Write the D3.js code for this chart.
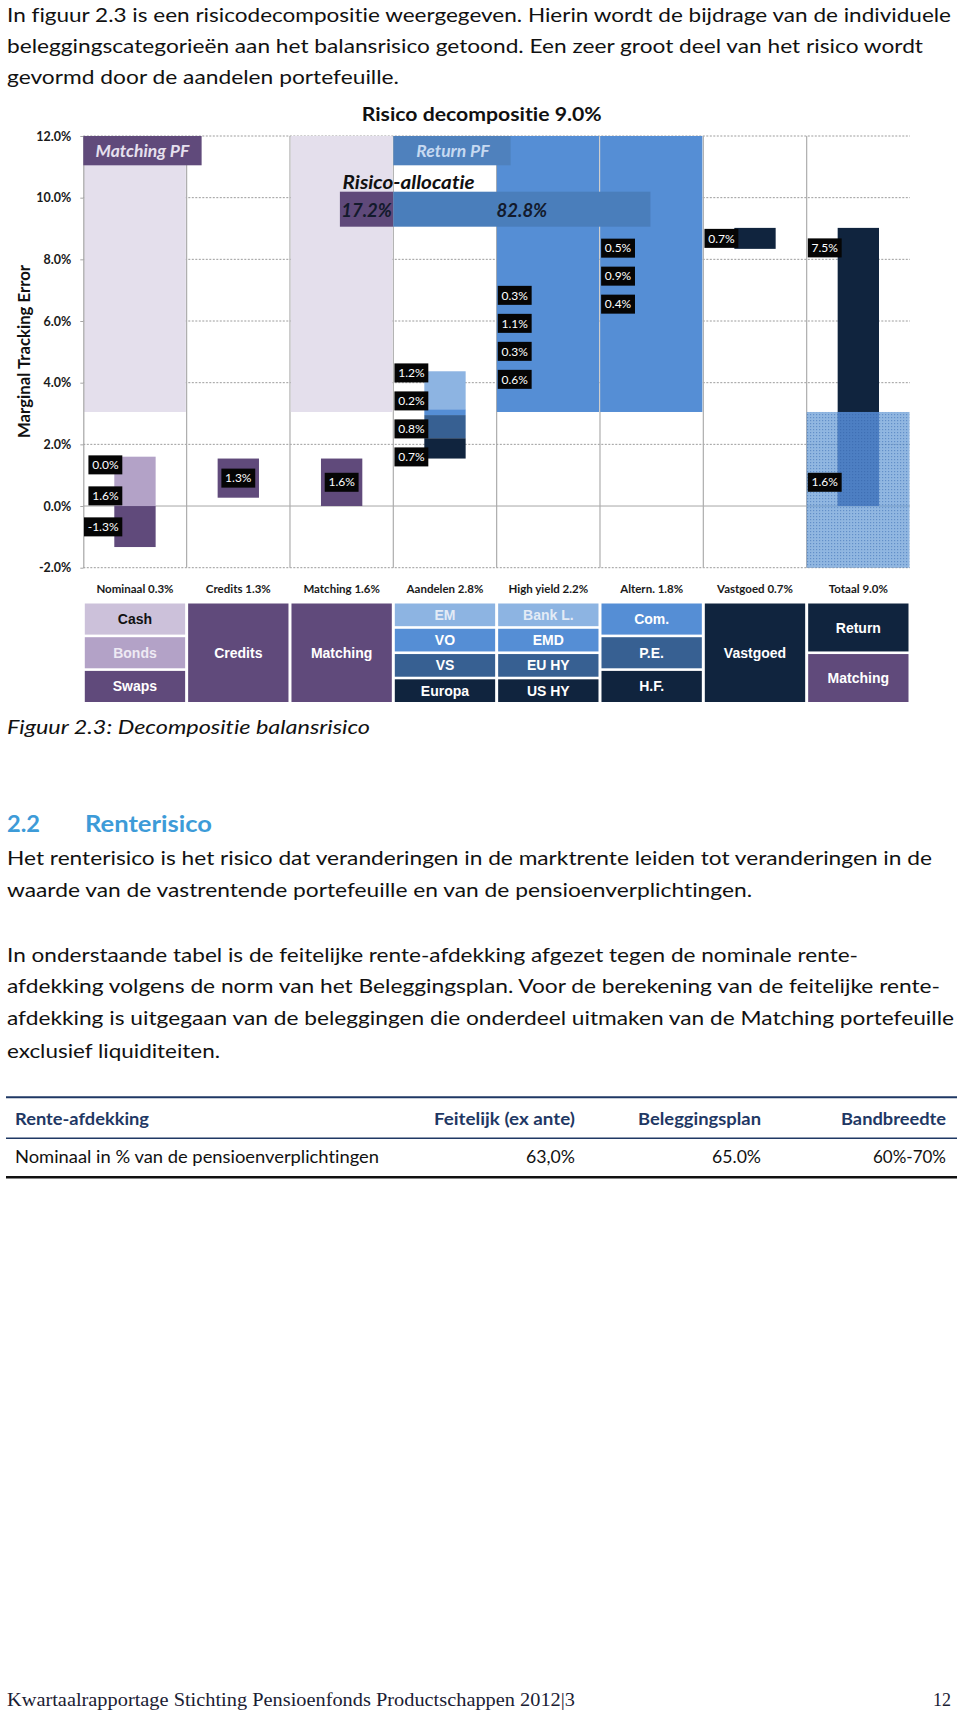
<!DOCTYPE html>
<html><head><meta charset="utf-8">
<script src="https://cdn.jsdelivr.net/npm/d3@7"></script>
<style>
html,body{margin:0;padding:0;background:#fff;}
svg{display:block;}
text{font-variant-ligatures:none;font-feature-settings:"liga" 0,"dlig" 0,"clig" 0;}
</style></head><body>
<svg id="page" width="960" height="1716"></svg>
<script>
// ---------------- DATA ----------------
const categories = ["Nominaal","Credits","Matching","Aandelen","High yield","Altern.","Vastgoed","Totaal"];
const categoryTotals = ["0.3%","1.3%","1.6%","2.8%","2.2%","1.8%","0.7%","9.0%"];
const yTicks = [-2,0,2,4,6,8,10,12];

// segments, bottom-to-top: [part, value (%), data label]
const nominaalParts = [["Swaps",-1.33,"-1.3%"],["Bonds",1.60,"1.6%"],["Cash",0.00,"0.0%"]];
const creditsParts  = [["Credits",1.27,"1.3%"]];
const matchingParts = [["Matching",1.54,"1.6%"]];
const aandelenParts = [["Europa",0.66,"0.7%"],["VS",0.75,"0.8%"],["VO",0.19,"0.2%"],["EM",1.23,"1.2%"]];
const highYieldParts = [["US HY",0.55,"0.6%"],["EU HY",0.30,"0.3%"],["EMD",1.05,"1.1%"],["Bank L.",0.30,"0.3%"]];
const alternParts   = [["H.F.",0.40,"0.4%"],["P.E.",0.87,"0.9%"],["Com.",0.50,"0.5%"]];
const vastgoedParts = [["Vastgoed",0.68,"0.7%"]];
const totaalParts   = [["Matching",1.54,"1.6%"],["Return",7.48,"7.5%"]];

// risk allocation
const allocationNames = ["Matching","Return"];
const allocationValues = [17.2, 82.8];

// portfolio panels (value range in %)
const matchingPanelCats = ["Nominaal","Matching"];
const returnPanelCats = ["High yield","Altern."];
const panelRange = [3.05, 12];
const totalPanelRange = [-2, 3.05];

// ---------------- STYLE ----------------
const FONT = "Lato, 'Open Sans', sans-serif";
const partColors = {
  "Cash":"#ccc1da","Bonds":"#b3a2c7","Swaps":"#604a7b","Credits":"#604a7b","Matching":"#604a7b",
  "EM":"#8db4e2","VO":"#558ed5","VS":"#376092","Europa":"#10243e",
  "Bank L.":"#8db4e2","EMD":"#558ed5","EU HY":"#376092","US HY":"#10243e",
  "Com.":"#558ed5","P.E.":"#376092","H.F.":"#10243e","Vastgoed":"#10243e","Return":"#10243e"
};
const legendTextColors = {"Cash":"#111111","Bonds":"#eeeaf4","EM":"#e3ebf6","Bank L.":"#e3ebf6"};

const partsByCat = {
  "Nominaal":nominaalParts,"Credits":creditsParts,"Matching":matchingParts,"Aandelen":aandelenParts,
  "High yield":highYieldParts,"Altern.":alternParts,"Vastgoed":vastgoedParts,"Totaal":totaalParts
};
const totalCats = new Set(["Matching","Totaal"]);
const centeredLabelCats = new Set(["Credits","Matching"]);

const svg = d3.select("#page");
svg.append("rect").attr("width",960).attr("height",1716).attr("fill","#fff");

const defs = svg.append("defs");
const pat = defs.append("pattern").attr("id","dots").attr("width",3).attr("height",3)
  .attr("patternUnits","userSpaceOnUse");
pat.append("rect").attr("width",3).attr("height",3).attr("fill","rgba(103,155,213,0.72)");
pat.append("rect").attr("width",1.2).attr("height",1.2).attr("fill","rgba(60,110,180,0.55)");
const pat2 = defs.append("pattern").attr("id","dotsDark").attr("width",3).attr("height",3)
  .attr("patternUnits","userSpaceOnUse");
pat2.append("rect").attr("width",3).attr("height",3).attr("fill","#4d7fc3");
pat2.append("rect").attr("width",1.2).attr("height",1.2).attr("fill","#3f6fb4");

// ---------------- BODY TEXT ----------------
function line(txt, xx, yy, opts = {}) {
  const t = svg.append("text").attr("x", xx).attr("y", yy).text(txt)
    .attr("font-family", opts.family || FONT)
    .attr("font-size", opts.size || 20)
    .attr("fill", opts.fill || "#111")
    .attr("font-weight", opts.weight || "normal")
    .attr("font-style", opts.style || "normal");
  if (opts.anchor) t.attr("text-anchor", opts.anchor);
  if (opts.len) t.attr("textLength", opts.len).attr("lengthAdjust","spacingAndGlyphs");
  return t;
}
line("In figuur 2.3 is een risicodecompositie weergegeven. Hierin wordt de bijdrage van de individuele", 7, 21.7, {len:944});
line("beleggingscategorieën aan het balansrisico getoond. Een zeer groot deel van het risico wordt", 7, 53.3, {len:916});
line("gevormd door de aandelen portefeuille.", 7, 84, {len:392});

line("Figuur 2.3: Decompositie balansrisico", 7, 734.3, {style:"italic", len:363});

line("2.2", 7, 831.7, {weight:"bold", size:23.5, fill:"#3d9bd8", len:33});
line("Renterisico", 85, 831.7, {weight:"bold", size:23.5, fill:"#3d9bd8", len:127});

line("Het renterisico is het risico dat veranderingen in de marktrente leiden tot veranderingen in de", 7, 865, {len:925});
line("waarde van de vastrentende portefeuille en van de pensioenverplichtingen.", 7, 897.3, {len:745});
line("In onderstaande tabel is de feitelijke rente-afdekking afgezet tegen de nominale rente-", 7, 961.7, {len:851});
line("afdekking volgens de norm van het Beleggingsplan. Voor de berekening van de feitelijke rente-", 7, 993.3, {len:933});
line("afdekking is uitgegaan van de beleggingen die onderdeel uitmaken van de Matching portefeuille", 7, 1025, {len:947});
line("exclusief liquiditeiten.", 7, 1058.3, {len:213});

// table
svg.append("line").attr("x1",6).attr("x2",957).attr("y1",1097.3).attr("y2",1097.3).attr("stroke","#1f3864").attr("stroke-width",2);
svg.append("line").attr("x1",6).attr("x2",957).attr("y1",1138.3).attr("y2",1138.3).attr("stroke","#1f3864").attr("stroke-width",1.5);
svg.append("line").attr("x1",6).attr("x2",957).attr("y1",1177.3).attr("y2",1177.3).attr("stroke","#111").attr("stroke-width",2.5);
const hdr = {weight:"bold", size:17, fill:"#1f3864"};
line("Rente-afdekking", 15, 1125, {...hdr, len:134});
line("Feitelijk (ex ante)", 575, 1125, {...hdr, anchor:"end", len:141});
line("Beleggingsplan", 761, 1125, {...hdr, anchor:"end", len:123});
line("Bandbreedte", 946, 1125, {...hdr, anchor:"end", len:105});
const rowS = {size:17, fill:"#111"};
line("Nominaal in % van de pensioenverplichtingen", 15, 1163.3, {...rowS, len:364});
line("63,0%", 575, 1163.3, {...rowS, anchor:"end", len:49});
line("65.0%", 761, 1163.3, {...rowS, anchor:"end", len:49});
line("60%-70%", 946, 1163.3, {...rowS, anchor:"end", len:73});

// footer
line("Kwartaalrapportage Stichting Pensioenfonds Productschappen 2012|3", 7, 1706,
  {family:"'Liberation Serif', 'DejaVu Serif', serif", size:18, fill:"#1a2033", len:568});
line("12", 951, 1706, {family:"'Liberation Serif', 'DejaVu Serif', serif", size:18, fill:"#1a2033", anchor:"end"});

// ---------------- CHART ----------------
const x = d3.scaleBand().domain(categories).range([83.3, 910]).paddingInner(0).paddingOuter(0);
const y = d3.scaleLinear().domain([-2, 12]).range([567.7, 136]);
const bw = x.bandwidth();
const plotL = x.range()[0], plotR = x.range()[1];

// title
line("Risico decompositie 9.0%", 481.7, 120.5, {weight:"bold", size:19.5, anchor:"middle", len:240});

// y axis title
svg.append("text").attr("transform","translate(29.5,351.5) rotate(-90)")
  .attr("text-anchor","middle").attr("font-family",FONT).attr("font-weight","bold")
  .attr("font-size",17).attr("fill","#111").attr("textLength",173).attr("lengthAdjust","spacingAndGlyphs")
  .text("Marginal Tracking Error");

// gridlines
const grid = svg.append("g");
grid.selectAll("line.h").data(yTicks).join("line")
  .attr("x1", plotL).attr("x2", plotR).attr("y1", d => y(d)).attr("y2", d => y(d))
  .attr("stroke", d => d === 0 ? "#a6a6a6" : "#9c9c9c")
  .attr("stroke-width", 1)
  .attr("stroke-dasharray", d => d === 0 ? null : "2,1.5");
grid.selectAll("line.v").data(categories.slice(1)).join("line")
  .attr("x1", d => x(d)).attr("x2", d => x(d)).attr("y1", y(12)).attr("y2", y(-2))
  .attr("stroke","#adadad").attr("stroke-width",1.2);

// matching panels
svg.append("g").selectAll("rect").data(matchingPanelCats).join("rect")
  .attr("x", d => x(d) + 0.8).attr("width", bw - 1.6)
  .attr("y", y(panelRange[1])).attr("height", y(panelRange[0]) - y(panelRange[1]))
  .attr("fill","#e4dfec");

// stacks (waterfall)
let running = 0;
const stacks = categories.map(c => {
  const parts = partsByCat[c];
  const base = totalCats.has(c) ? 0 : running;
  let up = base, down = base;
  const segs = parts.map(([name, v, label]) => {
    let y0, y1;
    if (v >= 0) { y0 = up; y1 = up + v; up = y1; }
    else { y1 = down; y0 = down + v; down = y0; }
    return {cat: c, name, v, label, y0, y1};
  });
  if (!totalCats.has(c)) running = base + d3.sum(parts, p => p[1]);
  return {cat: c, segs, lo: d3.min(segs, s => s.y0), hi: d3.max(segs, s => s.y1)};
});

const allSegs = stacks.flatMap(s => s.segs);
svg.append("g").selectAll("rect").data(allSegs).join("rect")
  .attr("x", d => x(d.cat) + bw * 0.3).attr("width", bw * 0.4)
  .attr("y", d => y(d.y1)).attr("height", d => Math.max(0, y(d.y0) - y(d.y1)))
  .attr("fill", d => partColors[d.name]);

// return panels (cover the return bars)
svg.append("g").selectAll("rect").data(returnPanelCats).join("rect")
  .attr("x", d => x(d) + 0.2).attr("width", bw - 1.2)
  .attr("y", y(panelRange[1])).attr("height", y(panelRange[0]) - y(panelRange[1]))
  .attr("fill","#558ed5");

// totaal dotted overlay
svg.append("rect").attr("x", x("Totaal")).attr("width", plotR - x("Totaal") - 0.5)
  .attr("y", y(totalPanelRange[1])).attr("height", y(totalPanelRange[0]) - y(totalPanelRange[1]))
  .attr("fill","url(#dots)");
const totStack = stacks.find(s => s.cat === "Totaal");
const ovTop = Math.min(totStack.hi, totalPanelRange[1]);
const ovBot = Math.max(totStack.lo, totalPanelRange[0]);
svg.append("rect").attr("x", x("Totaal") + bw * 0.3).attr("width", bw * 0.4)
  .attr("y", y(ovTop)).attr("height", y(ovBot) - y(ovTop)).attr("fill","url(#dotsDark)");

// y axis
const yAxis = d3.axisLeft(y).tickValues(yTicks).tickFormat(d => d.toFixed(1) + "%")
  .tickSize(3).tickSizeOuter(0).tickPadding(9);
const ax = svg.append("g").attr("transform", `translate(${plotL},0)`).call(yAxis);
ax.select(".domain").attr("stroke","#a6a6a6").attr("stroke-width",1.2);
ax.selectAll(".tick line").attr("stroke","#a6a6a6");
ax.selectAll("text").attr("font-family",FONT).attr("font-weight","bold").attr("font-size",12.5).attr("fill","#1a1a1a");

// x axis labels
const xAxis = d3.axisBottom(x).tickSize(0).tickPadding(7)
  .tickFormat((d, i) => d + " " + categoryTotals[i]);
const axb = svg.append("g").attr("transform","translate(0,578)").call(xAxis);
axb.select(".domain").remove();
axb.selectAll("text").attr("font-family",FONT).attr("font-weight","bold").attr("font-size",11.5).attr("fill","#1a1a1a");

// header boxes
const hdrG = svg.append("g");
const pfW = bw * 1.145, pfH = 29.3;
hdrG.append("rect").attr("x", x("Nominaal")).attr("y", y(12)).attr("width", pfW).attr("height", pfH).attr("fill","#604a7b");
hdrG.append("text").attr("x", x("Nominaal") + pfW / 2).attr("y", y(12) + 21).attr("text-anchor","middle")
  .attr("font-family",FONT).attr("font-weight","bold").attr("font-style","italic").attr("font-size",17.5)
  .attr("fill","#e6e0ee").text("Matching PF");
hdrG.append("rect").attr("x", x("Aandelen")).attr("y", y(12)).attr("width", bw * 1.135).attr("height", pfH).attr("fill","#4f81bd");
hdrG.append("text").attr("x", x("Aandelen") + bw * 1.135 / 2 + 1).attr("y", y(12) + 21).attr("text-anchor","middle")
  .attr("font-family",FONT).attr("font-weight","bold").attr("font-style","italic").attr("font-size",17.5)
  .attr("fill","#c6d9f1").text("Return PF");

// allocation bar
const allocW = bw * 3.005;
const allocX0 = x("Aandelen") - allocW * allocationValues[0] / 100;
const xa = d3.scaleLinear().domain([0, 100]).range([allocX0, allocX0 + allocW]);
const cum = d3.cumsum(allocationValues);
const allocData = allocationNames.map((n, i) => ({name: n, a0: cum[i] - allocationValues[i], a1: cum[i], v: allocationValues[i]}));
const allocY = 191.7, allocH = 35;
hdrG.selectAll("rect.alloc").data(allocData).join("rect").attr("class","alloc")
  .attr("x", d => xa(d.a0)).attr("width", d => xa(d.a1) - xa(d.a0))
  .attr("y", allocY).attr("height", allocH)
  .attr("fill", d => d.name === "Matching" ? "#5f497a" : "#4a7ebb");
hdrG.selectAll("text.alloc").data(allocData).join("text").attr("class","alloc")
  .attr("x", d => (xa(d.a0) + xa(d.a1)) / 2).attr("y", allocY + 24.8).attr("text-anchor","middle")
  .attr("font-family",FONT).attr("font-weight","bold").attr("font-style","italic").attr("font-size",18.5)
  .attr("fill","#131a2c").text(d => d.v.toFixed(1) + "%");
hdrG.append("text").attr("x", xa(0) + 2.7).attr("y", 189)
  .attr("font-family",FONT).attr("font-weight","bold").attr("font-style","italic").attr("font-size",19.5)
  .attr("textLength",132).attr("lengthAdjust","spacingAndGlyphs")
  .attr("fill","#111").text("Risico-allocatie");

// data labels
const labelsG = svg.append("g");
function addLabel(cx, cy, text, right) {
  const g = labelsG.append("g");
  const t = g.append("text").text(text).attr("font-family",FONT).attr("font-size",12).attr("fill","#fff");
  const w = t.node().getComputedTextLength() + 7.5;
  const bx = right != null ? right - w : cx - w / 2;
  g.insert("rect","text").attr("x", bx).attr("y", cy - 9.5).attr("width", w).attr("height", 19).attr("fill","#050505");
  t.attr("x", bx + w / 2).attr("y", cy + 4.2).attr("text-anchor","middle");
}
stacks.forEach(st => {
  const barL = x(st.cat) + bw * 0.3;
  const barC = x(st.cat) + bw / 2;
  if (centeredLabelCats.has(st.cat)) {
    st.segs.forEach(s => addLabel(barC, (y(s.y0) + y(s.y1)) / 2, s.label));
  } else if (totalCats.has(st.cat)) {
    st.segs.forEach(s => {
      const h = y(s.y0) - y(s.y1);
      const cy = h > 150 ? y(s.y1) + 20 : (y(s.y0) + y(s.y1)) / 2;
      addLabel(null, cy, s.label, barL + 4);
    });
  } else {
    const n = st.segs.length;
    const mid = (y(st.lo) + y(st.hi)) / 2;
    const sp = n > 1 ? (n === 3 && st.lo < 0 ? 31 : 28) : 0;
    const shift = st.lo < 0 ? -6 : 0;
    st.segs.slice().reverse().forEach((s, i) => addLabel(null, mid + shift + (i - (n - 1) / 2) * sp, s.label, barL + (st.lo < 0 ? 8 : 4)));
  }
});

// legend table
const legG = svg.append("g");
const legTop = 603.5, legBot = 702, gap = 2.6;
stacks.forEach(st => {
  const rows = st.segs.slice().reverse();
  const n = rows.length;
  const h = (legBot - legTop - gap * (n - 1)) / n;
  rows.forEach((s, i) => {
    const ry = legTop + i * (h + gap);
    legG.append("rect").attr("x", x(st.cat) + 1.5).attr("width", bw - 3)
      .attr("y", ry).attr("height", h).attr("fill", partColors[s.name]);
    legG.append("text").attr("x", x(st.cat) + bw / 2).attr("y", ry + h / 2).attr("dy","0.36em")
      .attr("text-anchor","middle").attr("font-family","'Liberation Sans', Arial, sans-serif")
      .attr("font-weight","bold").attr("font-size",14)
      .attr("fill", legendTextColors[s.name] || "#ffffff").text(s.name);
  });
});
</script>
</body></html>
